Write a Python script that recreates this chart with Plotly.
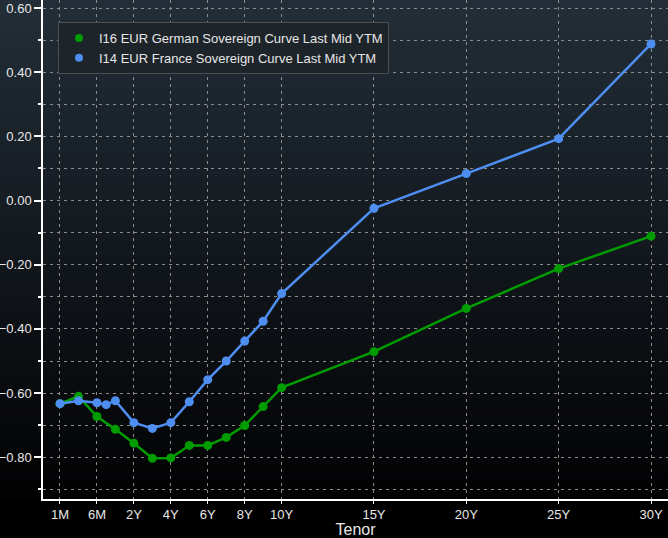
import numpy as np
import plotly.graph_objects as go

# ---------------- data ----------------
tenors_de = ["1M", "3M", "6M", "1Y", "2Y", "3Y", "4Y", "5Y", "6Y", "7Y", "8Y", "9Y",
             "10Y", "15Y", "20Y", "25Y", "30Y"]
yield_de = [-0.633, -0.610, -0.673, -0.713, -0.756, -0.803, -0.802, -0.763, -0.763,
            -0.738, -0.701, -0.642, -0.583, -0.471, -0.336, -0.212, -0.111]

tenors_fr = ["1M", "3M", "6M", "9M", "1Y", "2Y", "3Y", "4Y", "5Y", "6Y", "7Y", "8Y",
             "9Y", "10Y", "15Y", "20Y", "25Y", "30Y"]
yield_fr = [-0.633, -0.624, -0.630, -0.636, -0.624, -0.692, -0.710, -0.692, -0.627,
            -0.558, -0.500, -0.438, -0.376, -0.290, -0.024, 0.084, 0.193, 0.488]

tick_labels = ["1M", "6M", "2Y", "4Y", "6Y", "8Y", "10Y", "15Y", "20Y", "25Y", "30Y"]

name_de = "I16 EUR German Sovereign Curve Last Mid YTM"
name_fr = "I14 EUR France Sovereign Curve Last Mid YTM"
color_de = "#009c00"
color_fr = "#4d8ef0"


def tenor_axis(label):
    """Tenor scale: years are linear, sub-year tenors are spread out (1M, 3M, 6M, 1Y one step apart)."""
    n = float(label[:-1])
    months = n if label.endswith("M") else n * 12
    if months >= 12:
        return months / 12.0
    return float(np.interp(months, [1, 3, 6, 12], [-2, -1, 0, 1]))


x_de = [tenor_axis(t) for t in tenors_de]
x_fr = [tenor_axis(t) for t in tenors_fr]
x_ticks = [tenor_axis(t) for t in tick_labels]

fig = go.Figure()
fig.add_trace(go.Scatter(x=x_de, y=yield_de, mode="lines+markers", name=name_de,
                         line=dict(color=color_de, width=2.5),
                         marker=dict(color=color_de, size=9), showlegend=False,
                         text=tenors_de, hovertemplate="%{text}: %{y:.3f}<extra></extra>"))
fig.add_trace(go.Scatter(x=x_fr, y=yield_fr, mode="lines+markers", name=name_fr,
                         line=dict(color=color_fr, width=2.5),
                         marker=dict(color=color_fr, size=9), showlegend=False,
                         text=tenors_fr, hovertemplate="%{text}: %{y:.3f}<extra></extra>"))
# legend entries (dot only, as in the reference)
for nm, col in [(name_de, color_de), (name_fr, color_fr)]:
    fig.add_trace(go.Scatter(x=[None], y=[None], mode="markers", name=nm,
                             marker=dict(color=col, size=8), showlegend=True))

# background gradient (dark slate at the top fading to black)
top = np.array([35, 46, 56])
bot = np.array([2, 2, 3])
n_bands = 90
shapes = []
for i in range(n_bands):
    f = i / (n_bands - 1)
    c = top + (bot - top) * f
    y1 = 1 - i / n_bands
    y0 = 1 - (i + 1) / n_bands
    shapes.append(dict(type="rect", xref="paper", yref="paper", x0=-0.08, x1=1.0,
                       y0=y0, y1=y1 + 0.002, layer="below", line=dict(width=0),
                       fillcolor="rgb(%d,%d,%d)" % tuple(int(round(v)) for v in c)))

grid_col = "#8c8c8c"
fig.update_layout(
    width=668, height=538,
    margin=dict(l=43, r=0, t=0, b=39, autoexpand=False),
    paper_bgcolor="black",
    plot_bgcolor="rgba(0,0,0,0)",
    shapes=shapes,
    font=dict(family="Liberation Sans, Arial, sans-serif", color="#e8e8e8"),
    legend=dict(x=0.024, y=0.956, xanchor="left", yanchor="top",
                bgcolor="#1d242a", bordercolor="#4e4e4e", borderwidth=1,
                font=dict(family="Liberation Sans, Arial, sans-serif", size=13, color="#e6e6e6"),
                tracegroupgap=0, itemwidth=30),
    xaxis=dict(
        range=[-2.92, 30.92], automargin=False,
        tickmode="array", tickvals=x_ticks, ticktext=tick_labels,
        tickfont=dict(family="Liberation Sans, Arial, sans-serif", size=13, color="#e8e8e8"),
        showgrid=True, gridcolor=grid_col, gridwidth=1, griddash="3px,4px",
        showline=True, linecolor="white", linewidth=1.5,
        ticks="outside", ticklen=3, tickcolor="white", tickwidth=1,
        zeroline=False,
        title=dict(text="Tenor", standoff=2,
                   font=dict(family="Liberation Sans, Arial, sans-serif", size=16, color="#e8e8e8")),
    ),
    yaxis=dict(
        range=[-0.93, 0.625], automargin=False,
        tick0=0, dtick=0.2, tickformat=".2f", ticklabeloverflow="allow",
        tickfont=dict(family="Liberation Sans, Arial, sans-serif", size=13, color="#e8e8e8"),
        showgrid=True, gridcolor=grid_col, gridwidth=1, griddash="3px,4px",
        minor=dict(dtick=0.1, tick0=0, showgrid=True, gridcolor=grid_col, gridwidth=1,
                   griddash="3px,4px", ticks="outside", ticklen=3, tickcolor="white"),
        showline=True, linecolor="white", linewidth=1.5,
        ticks="outside", ticklen=7, tickcolor="white", tickwidth=2,
        zeroline=False,
    ),
)

fig.write_html("out.html", config={"displayModeBar": False},
               post_script="document.body.style.margin='0px';document.body.style.background='black';")
